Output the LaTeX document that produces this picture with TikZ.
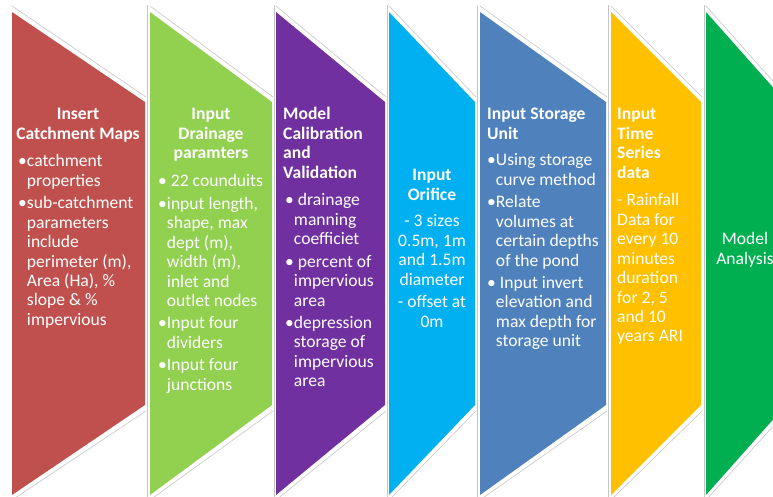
\documentclass[tikz,border=0pt]{standalone}
\usepackage{fontspec}
\setmainfont{Carlito}

\definecolor{stepred}{HTML}{C0504D}
\definecolor{steplime}{HTML}{92D050}
\definecolor{steppurple}{HTML}{7030A0}
\definecolor{stepcyan}{HTML}{00B0F0}
\definecolor{stepblue}{HTML}{4F81BD}
\definecolor{stepyellow}{HTML}{FFC000}
\definecolor{stepgreen}{HTML}{00B050}

\tikzset{
  rim/.style={draw=gray!45, line width=0.5pt},
  steptext/.style={text=white, inner sep=0pt, font=\fontsize{15}{16.6}\selectfont},
  steptitle/.style={text=white, inner sep=0pt, font=\fontsize{15}{16.6}\selectfont\bfseries},
}

\newcommand{\Chevron}[3]{% left x, right x, fill colour
  \draw[rim] (#1,6) -- (#2+1,97);
  \draw[rim] (#2+1,411) -- (#1,500);
  \fill[#3] (#1,12) -- (#2,102) -- (#2,405) -- (#1,495) -- cycle;
}
\newcommand{\bsp}{\hphantom{•}}% hanging indent after a bullet

\begin{document}
\begin{tikzpicture}[x=0.03cm,y=-0.03cm]
\useasboundingbox (0,0) rectangle (773,497);
\clip (0,0) rectangle (773,497);
\fill[white] (0,0) rectangle (773,497);
% gaps between the steps
\foreach \gx in {147,274,387,477,608,704}
  \draw[rim] (\gx,5) -- (\gx,497);
% the seven steps
\Chevron{12}{145}{stepred}
\Chevron{150}{272}{steplime}
\Chevron{276}{385}{steppurple}
\Chevron{389}{475}{stepcyan}
\Chevron{480}{606}{stepblue}
\Chevron{611}{701}{stepyellow}
\Chevron{706}{786}{stepgreen}
%%%%%%%%%%%%%%%%%%%%%%%%%%%%%%
\node[steptitle, anchor=north, align=center] (insT) at (78,106) {\strut Insert\\Catchment Maps};
\node[steptext, anchor=north west, align=left] (insB) at (18,153) {\strut •catchment\\ \bsp properties\\[2.5pt]
  •sub-catchment\\ \bsp parameters\\ \bsp include\\ \bsp perimeter (m),\\ \bsp Area (Ha), \%\\ \bsp slope \& \%\\ \bsp impervious};
%
\node[steptitle, anchor=north, align=center] (drnT) at (211,106) {\strut Input\\Drainage\\paramters};
\node[steptext, anchor=north west, align=left] (drnB) at (158,173) {\strut • 22 counduits\\[2.5pt]
  •input length,\\ \bsp shape, max\\ \bsp dept (m),\\ \bsp width (m),\\ \bsp inlet and\\ \bsp outlet nodes\\[2.5pt]
  •Input four\\ \bsp dividers\\[2.5pt]
  •Input four\\ \bsp junctions};
%
\node[steptitle, anchor=north west, align=left] (calT) at (283,106) {\strut Model\\Calibration\\and\\Validation};
\node[steptext, anchor=north west, align=left] (calB) at (285,192) {\strut • drainage\\ \bsp manning\\ \bsp coefficiet\\[2.5pt]
  • percent of\\ \bsp impervious\\ \bsp area\\[2.5pt]
  •depression\\ \bsp storage of\\ \bsp impervious\\ \bsp area};
%
\node[steptitle, anchor=north, align=center] (orfT) at (432,167) {\strut Input\\Orifice};
\node[steptext, anchor=north, align=center] (orfB) at (432,213) {\strut - 3 sizes\\0.5m, 1m\\and 1.5m\\diameter\\[2.5pt]
  - offset at\\0m};
%
\node[steptitle, anchor=north west, align=left] (stoT) at (487,106) {\strut Input Storage\\Unit};
\node[steptext, anchor=north west, align=left] (stoB) at (487,152) {\strut •Using storage\\ \bsp curve method\\[2.5pt]
  •Relate\\ \bsp volumes at\\ \bsp certain depths\\ \bsp of the pond\\[2.5pt]
  • Input invert\\ \bsp elevation and\\ \bsp max depth for\\ \bsp storage unit};
%
\node[steptitle, anchor=north west, align=left] (tsT) at (617,106) {\strut Input\\Time\\Series\\data};
\node[steptext, anchor=north west, align=left] (tsB) at (617,192) {\strut - Rainfall\\Data for\\every 10\\minutes\\duration\\for 2, 5\\and 10\\years ARI};
%
\node[steptext, anchor=north, align=center] (ana) at (745,231) {\strut Model\\Analysis};
\end{tikzpicture}
\end{document}
